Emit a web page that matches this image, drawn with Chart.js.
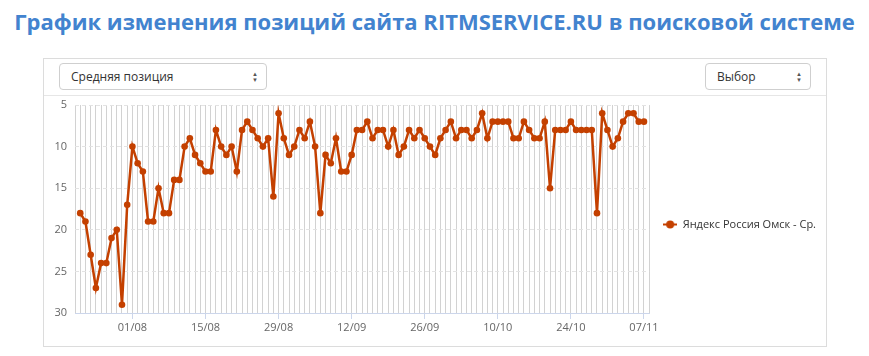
<!DOCTYPE html>
<html lang="ru">
<head>
<meta charset="utf-8">
<script src="https://cdn.jsdelivr.net/npm/chart.js@4.4.1/dist/chart.umd.min.js"></script>
<style>
  body { margin: 0; width: 869px; height: 356px; background: #fff; font-family: "Open Sans", sans-serif; position: relative; overflow: hidden; }
  h1 { position: absolute; left: 0; top: 6px; width: 869px; margin: 0; text-align: center; font-size: 22px; font-weight: 700; color: #4283cf; white-space: nowrap; }
  .panel { position: absolute; left: 43px; top: 58px; width: 784px; height: 289px; border: 1px solid #dcdcdc; box-sizing: border-box; }
  .sep { position: absolute; left: 44px; top: 95px; width: 782px; height: 1px; background: #e6e6e6; }
  .select { position: absolute; top: 63px; height: 27px; border: 1px solid #cfcfcf; border-radius: 4px; box-sizing: border-box; font-size: 12px; color: #333; line-height: 25px; padding-left: 11px; background: #fff; }
  .select .arr { position: absolute; right: 8px; top: 7px; font-size: 6px; line-height: 6px; color: #555; }
  #wrap { position: absolute; left: 44px; top: 96px; width: 782px; height: 248px; }
</style>
</head>
<body>
<h1>График изменения позиций сайта RITMSERVICE.RU в поисковой системе</h1>
<div class="panel"></div>
<div class="sep"></div>
<div class="select" style="left:59px; width:208px;">Средняя позиция<span class="arr">▲<br>▼</span></div>
<div class="select" style="left:705px; width:106px;">Выбор<span class="arr">▲<br>▼</span></div>
<div id="wrap"><canvas id="chart" width="782" height="248"></canvas></div>
<script>
const dates = [
  '22/07','23/07','24/07','25/07','26/07','27/07','28/07','29/07','30/07','31/07',
  '01/08','02/08','03/08','04/08','05/08','06/08','07/08','08/08','09/08','10/08',
  '11/08','12/08','13/08','14/08','15/08','16/08','17/08','18/08','19/08','20/08',
  '21/08','22/08','23/08','24/08','25/08','26/08','27/08','28/08','29/08','30/08','31/08',
  '01/09','02/09','03/09','04/09','05/09','06/09','07/09','08/09','09/09','10/09',
  '11/09','12/09','13/09','14/09','15/09','16/09','17/09','18/09','19/09','20/09',
  '21/09','22/09','23/09','24/09','25/09','26/09','27/09','28/09','29/09','30/09',
  '01/10','02/10','03/10','04/10','05/10','06/10','07/10','08/10','09/10','10/10',
  '11/10','12/10','13/10','14/10','15/10','16/10','17/10','18/10','19/10','20/10',
  '21/10','22/10','23/10','24/10','25/10','26/10','27/10','28/10','29/10','30/10','31/10',
  '01/11','02/11','03/11','04/11','05/11','06/11','07/11'
];
const positions = [
  18, 19, 23, 27, 24, 24, 21, 20, 29, 17,
  10, 12, 13, 19, 19, 15, 18, 18, 14, 14,
  10, 9, 11, 12, 13, 13, 8, 10, 11, 10,
  13, 8, 7, 8, 9, 10, 9, 16, 6, 9,
  11, 10, 8, 9, 7, 10, 18, 11, 12, 9,
  13, 13, 11, 8, 8, 7, 9, 8, 8, 10,
  8, 11, 10, 8, 9, 8, 9, 10, 11, 9,
  8, 7, 9, 8, 8, 9, 8, 6, 9, 7,
  7, 7, 7, 9, 9, 7, 8, 9, 9, 7,
  15, 8, 8, 8, 7, 8, 8, 8, 8, 18,
  6, 8, 10, 9, 7, 6, 6, 7, 7
];
const tickDates = ['01/08', '15/08', '29/08', '12/09', '26/09', '10/10', '24/10', '07/11'];
const yTicks = [5, 10, 15, 20, 25, 30];
const seriesName = 'Яндекс Россия Омск - Ср.';
const seriesColor = '#c44000';

// legend marker: short line with a dot
const marker = document.createElement('canvas');
marker.width = 14;
marker.height = 9;
const mctx = marker.getContext('2d');
mctx.strokeStyle = seriesColor;
mctx.lineWidth = 2;
mctx.beginPath();
mctx.moveTo(0, 4.5);
mctx.lineTo(14, 4.5);
mctx.stroke();
mctx.fillStyle = seriesColor;
mctx.beginPath();
mctx.arc(7, 4.5, 4, 0, Math.PI * 2);
mctx.fill();

const isLabelTick = v => tickDates.includes(dates[v]);

new Chart(document.getElementById('chart'), {
  type: 'line',
  data: {
    datasets: [{
      label: seriesName,
      data: positions.map((p, i) => ({ x: i, y: p })),
      borderColor: seriesColor,
      backgroundColor: seriesColor,
      borderWidth: 2.5,
      pointRadius: 3.3,
      pointBorderWidth: 0,
      tension: 0
    }]
  },
  options: {
    responsive: false,
    animation: false,
    layout: { padding: { top: 9, right: 0, left: 0, bottom: 0 } },
    plugins: {
      tooltip: { enabled: false },
      legend: {
        position: 'right',
        labels: {
          usePointStyle: true,
          pointStyle: marker,
          pointStyleWidth: 14,
          padding: 14,
          color: '#333',
          font: { family: 'Open Sans', size: 11 }
        }
      }
    },
    scales: {
      x: {
        type: 'linear',
        min: -1,
        max: dates.length,
        afterBuildTicks: scale => {
          const t = [];
          for (let i = -1; i <= dates.length; i++) t.push({ value: i });
          scale.ticks = t;
        },
        afterFit: scale => { scale.height = 31; },
        ticks: {
          autoSkip: false,
          maxRotation: 0,
          padding: 2,
          color: '#666',
          font: { family: 'Open Sans', size: 11 },
          callback: v => isLabelTick(v) ? dates[v] : ''
        },
        grid: {
          color: '#d2d2d2',
          tickLength: 6,
          tickColor: ctx => isLabelTick(ctx.tick.value) ? '#ccd6eb' : 'rgba(0,0,0,0)'
        },
        border: { color: '#ccd6eb' }
      },
      y: {
        reverse: true,
        min: 5,
        max: 30,
        afterBuildTicks: scale => { scale.ticks = yTicks.map(v => ({ value: v })); },
        afterFit: scale => {
          scale.width = 31;
          scale.paddingTop = 0;
          scale.paddingBottom = 0;
        },
        ticks: {
          padding: 8,
          color: '#666',
          font: { family: 'Open Sans', size: 11 }
        },
        grid: { color: '#e3e3e3', drawTicks: false },
        border: { display: false, dash: [4, 3] }
      }
    }
  }
});
</script>
</body>
</html>
